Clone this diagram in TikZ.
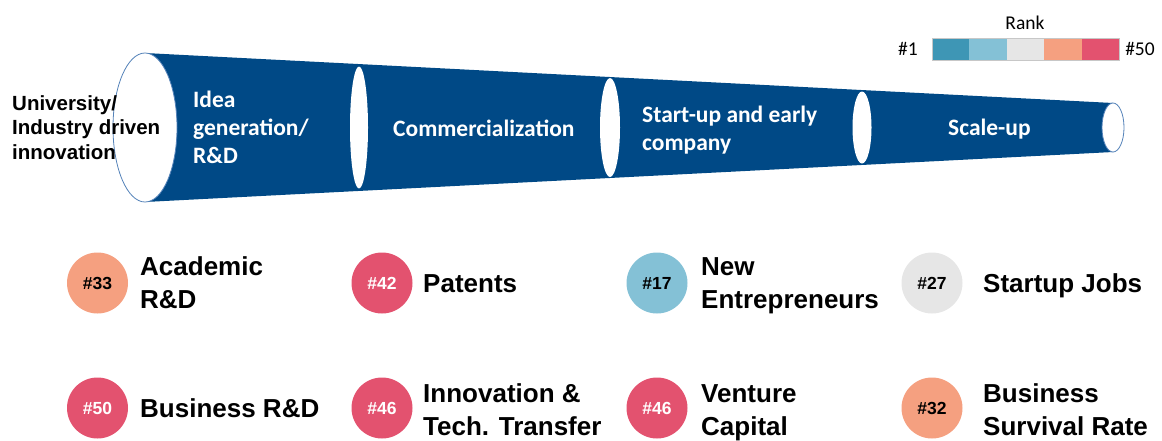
\documentclass[tikz,border=0pt]{standalone}
\usepackage{fontspec}
\setmainfont{Liberation Sans}
\newfontfamily\calfont{Carlito}
\definecolor{funnelblue}{RGB}{0,73,134}
\definecolor{rimblue}{RGB}{84,130,185}
\definecolor{rankA}{RGB}{62,150,181}
\definecolor{rankB}{RGB}{132,193,214}
\definecolor{rankC}{RGB}{230,230,230}
\definecolor{rankD}{RGB}{245,160,128}
\definecolor{rankE}{RGB}{227,82,111}
\begin{document}
\begin{tikzpicture}[x=1pt,y=-1pt,
  % multi-line labels are placed by the baseline of their last line
  stage/.style={text=white,font=\calfont\bfseries\fontsize{23.5}{28}\selectfont,align=left,anchor=base west,inner sep=0pt},
  entry/.style={font=\bfseries\fontsize{20.5}{24.5}\selectfont,align=left,anchor=base west,inner sep=0pt},
  badge/.style={circle,minimum size=61pt,inner sep=0pt,font=\bfseries\fontsize{17.5}{20}\selectfont},
  metric/.style={font=\bfseries\fontsize{26}{32.5}\selectfont,align=left,anchor=base west,inner sep=0pt},
  legendtxt/.style={font=\calfont\fontsize{19.5}{23}\selectfont,inner sep=0pt,anchor=base},
  ring/.style={fill=white,draw=rimblue,line width=0.8pt},
  slit/.style={fill=white}
]
\useasboundingbox (0,0) rectangle (1162,440);

% funnel body
\fill[funnelblue] (145,53) -- (1113,103) -- (1113,152) -- (145,202) -- cycle;
% openings
\draw[ring] (145,127.5) ellipse [x radius=32, y radius=74.5];
\draw[ring] (1113,127.5) ellipse [x radius=11, y radius=24.5];
% separators between stages
\fill[slit] (359,127.5) ellipse [x radius=9, y radius=61];
\fill[slit] (610,127.5) ellipse [x radius=10, y radius=49.5];
\fill[slit] (862,127.5) ellipse [x radius=9.5, y radius=36];

% stage labels
\node[stage] (s1) at (193,163) {Idea\\generation/\\R\&D};
\node[stage] (s2) at (393,136) {Commercialization};
\node[stage] (s3) at (642,150) {Start-up and early\\company};
\node[stage] (s4) at (948,135) {Scale-up};
\node[entry] (src) at (12,159) {University/\\Industry driven\\innovation};

% rank legend
\node[legendtxt] (rk) at (1025,29) {Rank};
\foreach \c [count=\i] in {rankA,rankB,rankC,rankD,rankE}
  \fill[\c] ({932+(\i-1)*37.4},38) rectangle ({932+\i*37.4},60);
\draw[rankC!70!gray,line width=0.6pt] (932,38) rectangle (1119,60);
\node[legendtxt] (lo) at (908,55) {\#1};
\node[legendtxt] (hi) at (1140,55) {\#50};

% indicator badges, row 1
\node[badge,fill=rankD] (b1) at (97.5,283) {\#33};
\node[badge,fill=rankE,text=white] (b2) at (382,283) {\#42};
\node[badge,fill=rankB] (b3) at (657,283) {\#17};
\node[badge,fill=rankC] (b4) at (932,283) {\#27};
% indicator badges, row 2
\node[badge,fill=rankE,text=white] (b5) at (97.5,408) {\#50};
\node[badge,fill=rankE,text=white] (b6) at (382,408) {\#46};
\node[badge,fill=rankE,text=white] (b7) at (657,408) {\#46};
\node[badge,fill=rankD] (b8) at (932,408) {\#32};

% indicator names
\node[metric] (m1) at (140,308) {Academic\\R\&D};
\node[metric] (m2) at (423,292) {Patents};
\node[metric] (m3) at (701,308) {New\\Entrepreneurs};
\node[metric] (m4) at (983,292) {Startup Jobs};
\node[metric] (m5) at (140,417) {Business R\&D};
\node[metric] (m6) at (423,435) {Innovation \&\\Tech. Transfer};
\node[metric] (m7) at (701,435) {Venture\\Capital};
\node[metric] (m8) at (983,435) {Business\\Survival Rate};
\end{tikzpicture}
\end{document}
